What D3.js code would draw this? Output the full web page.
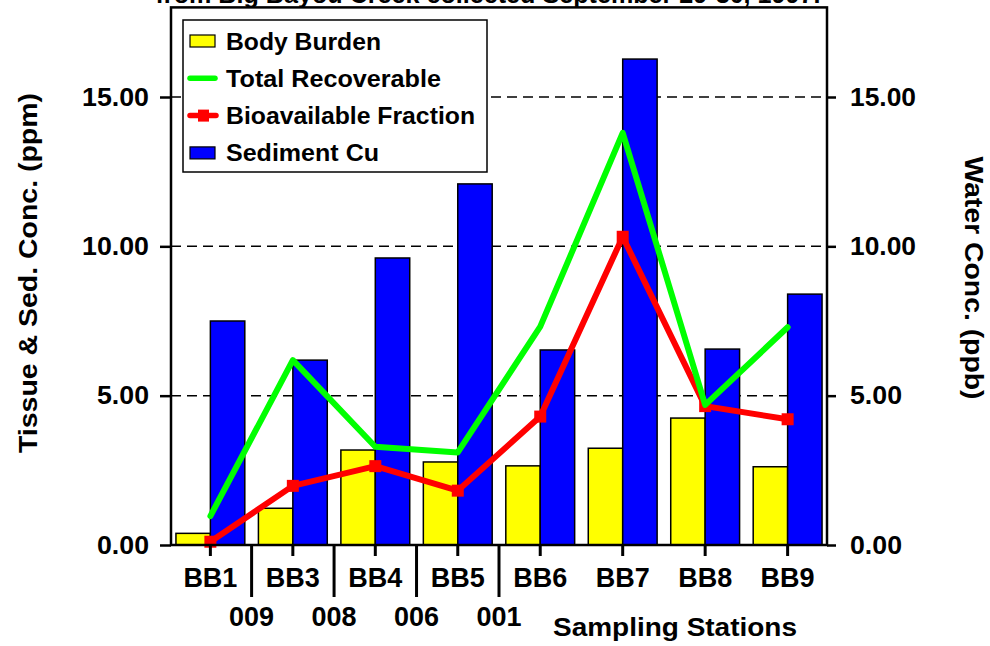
<!DOCTYPE html>
<html>
<head>
<meta charset="utf-8">
<script src="https://cdn.jsdelivr.net/npm/d3@7"></script>
<style>
  body { margin: 0; background: #fff; }
  svg text { font-family: "Liberation Sans", Arial, sans-serif; font-weight: bold; fill: #000; }
</style>
</head>
<body>
<div id="chart"></div>
<script>
// stations along the creek, with outfall labels between them
var stations = ["BB1", "BB3", "BB4", "BB5", "BB6", "BB7", "BB8", "BB9"];
var outfalls = ["009", "008", "006", "001"];

// values
var bodyBurden       = [0.39, 1.23, 3.18, 2.78, 2.65, 3.24, 4.25, 2.62];
var sedimentCu       = [7.50, 6.19, 9.61, 12.09, 6.53, 16.27, 6.56, 8.40];
var totalRecoverable = [0.97, 6.19, 3.29, 3.10, 7.31, 13.80, 4.69, 7.29];
var bioavailable     = [0.11, 1.98, 2.64, 1.82, 4.30, 10.32, 4.65, 4.21];

var yTicks = [0, 5, 10, 15];

var width = 990, height = 646;
var plotLeft = 171, plotRight = 827, plotTop = 7.4, plotBottom = 545;

var svg = d3.select("#chart").append("svg")
    .attr("width", width).attr("height", height);

var x = d3.scaleBand().domain(stations).range([plotLeft, plotRight])
    .paddingInner(0.165).paddingOuter(0.06);
var sub = d3.scaleBand().domain(["body", "sed"]).range([0, x.bandwidth()]);
var y = d3.scaleLinear().domain([0, 18]).range([plotBottom, plotTop]);

function cx(s) { return x(s) + x.bandwidth() / 2; }

// title (mostly cut off at top)
svg.append("text")
    .attr("x", 488).attr("y", 3)
    .attr("text-anchor", "middle")
    .attr("font-size", 26)
    .attr("textLength", 665).attr("lengthAdjust", "spacingAndGlyphs")
    .text("from Big Bayou Creek collected September 29-30, 1997.");

// dashed grid
svg.append("g").selectAll("line")
    .data(yTicks.filter(function (d) { return d > 0; }))
    .enter().append("line")
    .attr("x1", plotLeft).attr("x2", plotRight)
    .attr("y1", function (d) { return y(d); })
    .attr("y2", function (d) { return y(d); })
    .attr("stroke", "#000").attr("stroke-width", 1.5)
    .attr("stroke-dasharray", "10,6");

// bars
var bars = svg.append("g");
bars.selectAll("rect.body")
    .data(bodyBurden).enter().append("rect")
    .attr("class", "body")
    .attr("x", function (d, i) { return x(stations[i]) + sub("body"); })
    .attr("y", function (d) { return y(d); })
    .attr("width", sub.bandwidth())
    .attr("height", function (d) { return y(0) - y(d); })
    .attr("fill", "#ffff00").attr("stroke", "#000").attr("stroke-width", 1.5);

bars.selectAll("rect.sed")
    .data(sedimentCu).enter().append("rect")
    .attr("class", "sed")
    .attr("x", function (d, i) { return x(stations[i]) + sub("sed"); })
    .attr("y", function (d) { return y(d); })
    .attr("width", sub.bandwidth())
    .attr("height", function (d) { return y(0) - y(d); })
    .attr("fill", "#0000ff").attr("stroke", "#000").attr("stroke-width", 1.5);

// lines
var line = d3.line()
    .x(function (d, i) { return cx(stations[i]); })
    .y(function (d) { return y(d); });

svg.append("path").datum(bioavailable)
    .attr("d", line).attr("fill", "none")
    .attr("stroke", "#ff0000").attr("stroke-width", 6)
    .attr("stroke-linejoin", "round");

svg.append("g").selectAll("rect")
    .data(bioavailable).enter().append("rect")
    .attr("x", function (d, i) { return cx(stations[i]) - 6; })
    .attr("y", function (d) { return y(d) - 6; })
    .attr("width", 12).attr("height", 12)
    .attr("fill", "#ff0000");

svg.append("path").datum(totalRecoverable)
    .attr("d", line).attr("fill", "none")
    .attr("stroke", "#00ff00").attr("stroke-width", 6)
    .attr("stroke-linejoin", "round").attr("stroke-linecap", "round");

// frame
svg.append("rect")
    .attr("x", plotLeft).attr("y", plotTop)
    .attr("width", plotRight - plotLeft).attr("height", plotBottom - plotTop)
    .attr("fill", "none").attr("stroke", "#000").attr("stroke-width", 2.5);

// axes
var fmt = d3.format(".2f");
var yl = svg.append("g").attr("transform", "translate(" + plotLeft + ",0)")
    .call(d3.axisLeft(y).tickValues(yTicks).tickFormat(fmt)
        .tickSizeInner(11).tickSizeOuter(0).tickPadding(11));
var yr = svg.append("g").attr("transform", "translate(" + plotRight + ",0)")
    .call(d3.axisRight(y).tickValues(yTicks).tickFormat(fmt)
        .tickSizeInner(9).tickSizeOuter(0).tickPadding(14));
var xa = svg.append("g").attr("transform", "translate(0," + plotBottom + ")")
    .call(d3.axisBottom(x).tickSizeInner(11).tickSizeOuter(0).tickPadding(12));

[yl, yr, xa].forEach(function (g) {
    g.select(".domain").remove();
    g.selectAll("line").attr("stroke", "#000").attr("stroke-width", 2.5);
    g.selectAll("text").attr("font-size", 26)
        .attr("font-family", "'Liberation Sans', Arial, sans-serif")
        .attr("font-weight", "bold").attr("fill", "#000");
});
xa.selectAll("line").attr("stroke-width", 3);
xa.selectAll("text").attr("font-size", 27)
    .attr("textLength", 54).attr("lengthAdjust", "spacingAndGlyphs");
yl.selectAll("text").attr("textLength", 67).attr("lengthAdjust", "spacingAndGlyphs");
yr.selectAll("text").attr("textLength", 66).attr("lengthAdjust", "spacingAndGlyphs");
yl.selectAll("text").filter(function (d) { return d < 10; }).attr("textLength", 52);
yr.selectAll("text").filter(function (d) { return d < 10; }).attr("textLength", 52);

// outfall separators between stations
var sep = svg.append("g");
outfalls.forEach(function (o, i) {
    var xm = (cx(stations[i]) + cx(stations[i + 1])) / 2;
    sep.append("line")
        .attr("x1", xm).attr("x2", xm)
        .attr("y1", plotBottom).attr("y2", 597)
        .attr("stroke", "#000").attr("stroke-width", 3);
    sep.append("text")
        .attr("x", xm).attr("y", 626)
        .attr("text-anchor", "middle").attr("font-size", 27)
        .attr("textLength", 45).attr("lengthAdjust", "spacingAndGlyphs")
        .text(o);
});

svg.append("text")
    .attr("x", 553).attr("y", 636)
    .attr("font-size", 26)
    .attr("textLength", 244).attr("lengthAdjust", "spacingAndGlyphs")
    .text("Sampling Stations");

svg.append("text")
    .attr("transform", "translate(28,273) rotate(-90)")
    .attr("text-anchor", "middle").attr("dominant-baseline", "central")
    .attr("font-size", 26)
    .attr("textLength", 360).attr("lengthAdjust", "spacingAndGlyphs")
    .text("Tissue & Sed. Conc. (ppm)");

svg.append("text")
    .attr("transform", "translate(974,278) rotate(90)")
    .attr("text-anchor", "middle").attr("dominant-baseline", "central")
    .attr("font-size", 26)
    .attr("textLength", 243).attr("lengthAdjust", "spacingAndGlyphs")
    .text("Water Conc. (ppb)");

// legend
var legendItems = ["Body Burden", "Total Recoverable", "Bioavailable Fraction", "Sediment Cu"];
var legendWidths = [155, 215, 249, 153];
var lg = svg.append("g");
lg.append("rect")
    .attr("x", 183).attr("y", 20).attr("width", 304).attr("height", 152)
    .attr("fill", "#fff").attr("stroke", "#000").attr("stroke-width", 1.5);

legendItems.forEach(function (name, i) {
    var ly = 41 + i * 37.3;
    if (i === 0 || i === 3) {
        lg.append("rect")
            .attr("x", 190).attr("y", ly - 6).attr("width", 25).attr("height", 12)
            .attr("fill", i === 0 ? "#ffff00" : "#0000ff")
            .attr("stroke", "#000").attr("stroke-width", 1.2);
    } else if (i === 1) {
        lg.append("line")
            .attr("x1", 190).attr("x2", 215).attr("y1", ly).attr("y2", ly)
            .attr("stroke", "#00ff00").attr("stroke-width", 5.5)
            .attr("stroke-linecap", "round");
    } else {
        lg.append("line")
            .attr("x1", 190).attr("x2", 216).attr("y1", ly).attr("y2", ly)
            .attr("stroke", "#ff0000").attr("stroke-width", 5.5)
            .attr("stroke-linecap", "round");
        lg.append("rect")
            .attr("x", 198).attr("y", ly - 6).attr("width", 11).attr("height", 12)
            .attr("fill", "#ff0000");
    }
    lg.append("text")
        .attr("x", 226).attr("y", ly)
        .attr("dominant-baseline", "central")
        .attr("font-size", 24)
        .attr("textLength", legendWidths[i]).attr("lengthAdjust", "spacingAndGlyphs")
        .text(name);
});
</script>
</body>
</html>
